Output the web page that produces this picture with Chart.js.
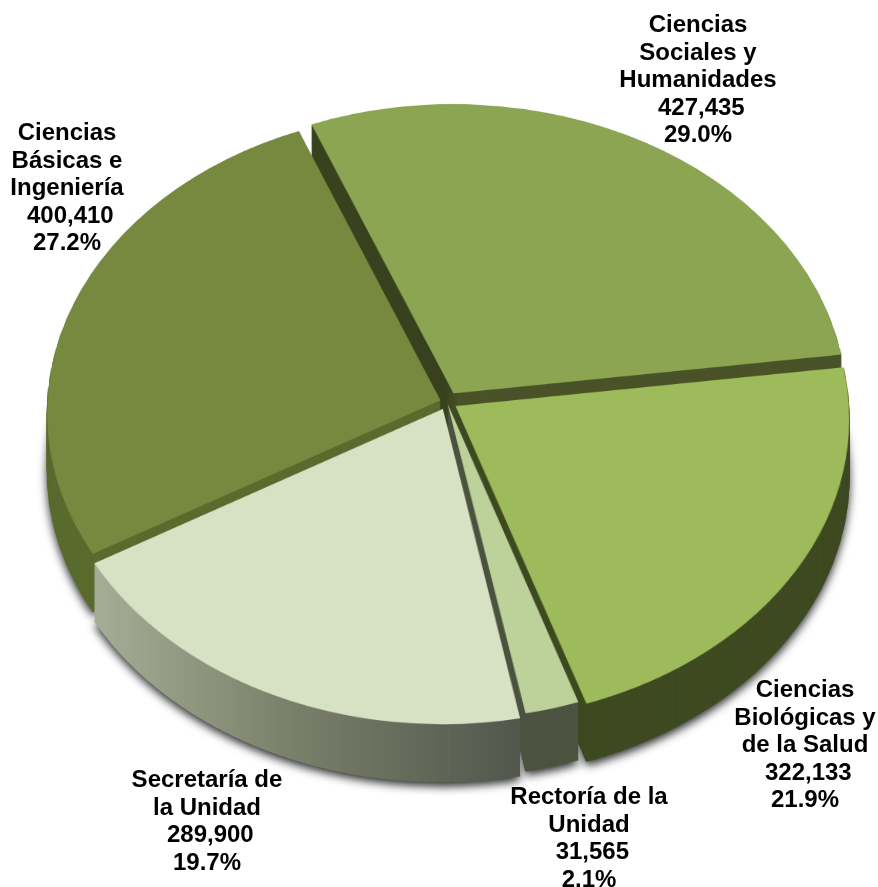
<!DOCTYPE html>
<html>
<head>
<meta charset="utf-8">
<title>Pie</title>
<script src="https://cdn.jsdelivr.net/npm/chart.js@4"></script>
<style>
    html, body { margin: 0; padding: 0; background: #fff; overflow: hidden; }
    canvas { display: block; }
</style>
</head>
<body>
<canvas id="pieChart" width="878" height="887"></canvas>
<script>
// Data
const categories = [
    ['Ciencias', 'Sociales y', 'Humanidades'],
    ['Ciencias', 'Biológicas y', 'de la Salud'],
    ['Rectoría de la', 'Unidad'],
    ['Secretaría de', 'la Unidad'],
    ['Ciencias', 'Básicas e', 'Ingeniería']
];
const values = [427435, 322133, 31565, 289900, 400410];
const percents = ['29.0%', '21.9%', '2.1%', '19.7%', '27.2%'];

// Colours, slice explosion and label placement
const topColors = ['#8ba552', '#9dbb5a', '#bdd19a', '#d7e2c4', '#76893f'];
const sideColors = ['#4a5228', '#3f4a21', '#4d5340', null, '#5a6b2e'];
const sliceOffsets = [52, 40, 8, 40, 28];
const labelCenters = [[698, 32], [805, 697], [589, 804], [207, 787], [67, 140]];
const lineHeight = 27.5;

// Look of the 3D pie: tilt, a little perspective, thickness
const tilt = 0.767;
const perspective = 0.0407 / 393;
const centerY = 402;
const depth = 58;
const drawOrder = [0, 4, 1, 2, 3];

function sideFill(ctx, i) {
    if (i === 3) {
        const g = ctx.createLinearGradient(90, 0, 515, 0);
        g.addColorStop(0, '#a8af98');
        g.addColorStop(0.45, '#7c826c');
        g.addColorStop(1, '#53584d');
        return g;
    }
    if (i === 0) {
        const g = ctx.createLinearGradient(445, 0, 460, 0);
        g.addColorStop(0, '#3a421f');
        g.addColorStop(1, sideColors[0]);
        return g;
    }
    return sideColors[i];
}

function newLayer(w, h) {
    const c = document.createElement('canvas');
    c.width = w;
    c.height = h;
    return c;
}

// Flat circle slice -> tilted slice, one screen row at a time
function tiltSlice(flat, cx, cy) {
    const w = flat.width, h = flat.height;
    const out = newLayer(w, h);
    const ctx = out.getContext('2d');
    const toFlat = (row) => (row - centerY) / (tilt + perspective * (row - centerY));
    for (let row = 0; row < h; row++) {
        const y = toFlat(row + 0.5);
        const s = 1 / (1 - perspective * y);
        const top = toFlat(row), bottom = toFlat(row + 1);
        ctx.drawImage(flat, 0, cy + top, w, bottom - top, cx - s * cx, row, s * w, 1);
    }
    return out;
}

function sliceLayers(chart, arc, i) {
    const w = chart.width, h = chart.height;
    const flat = newLayer(w, h);
    arc.draw(flat.getContext('2d'));
    const top = tiltSlice(flat, arc.x, arc.y);
    const side = newLayer(w, h);
    const sctx = side.getContext('2d');
    sctx.drawImage(top, 0, 0);
    sctx.globalCompositeOperation = 'source-in';
    sctx.fillStyle = sideFill(sctx, i);
    sctx.fillRect(0, 0, w, h);
    return { top, side };
}

const tiltPlugin = {
    id: 'tilt',
    beforeDatasetDraw(chart, args) {
        const ctx = chart.ctx;
        const layers = args.meta.data.map((arc, i) => sliceLayers(chart, arc, i));

        // soft shadow under the pie
        ctx.save();
        ctx.shadowColor = 'rgba(0,0,0,0.85)';
        ctx.shadowBlur = 10;
        ctx.shadowOffsetX = 0;
        ctx.shadowOffsetY = 4;
        drawOrder.forEach(i => ctx.drawImage(layers[i].side, 0, depth));
        ctx.restore();

        drawOrder.forEach(i => {
            for (let d = depth; d > 0; d--) {
                ctx.drawImage(layers[i].side, 0, d);
            }
            ctx.drawImage(layers[i].top, 0, 0);
        });
        return false;
    },
    afterDraw(chart) {
        const ctx = chart.ctx;
        ctx.save();
        ctx.font = 'bold 24px "Liberation Sans", Arial, sans-serif';
        ctx.fillStyle = '#000';
        ctx.textAlign = 'center';
        ctx.textBaseline = 'alphabetic';
        categories.forEach((lines, i) => {
            const all = lines.concat([' ' + values[i].toLocaleString('en-US'), percents[i]]);
            const [x, y] = labelCenters[i];
            all.forEach((line, n) => ctx.fillText(line, x, y + n * lineHeight));
        });
        ctx.restore();
    }
};

new Chart(document.getElementById('pieChart'), {
    type: 'pie',
    data: {
        labels: categories.map(c => c.join(' ')),
        datasets: [{
            data: values,
            backgroundColor: topColors,
            borderWidth: 0,
            offset: sliceOffsets,
            clip: false
        }]
    },
    options: {
        responsive: false,
        animation: false,
        rotation: -22,
        radius: 393,
        layout: { padding: { left: 16 } },
        plugins: { legend: { display: false }, tooltip: { enabled: false } }
    },
    plugins: [tiltPlugin]
});
</script>
</body>
</html>
